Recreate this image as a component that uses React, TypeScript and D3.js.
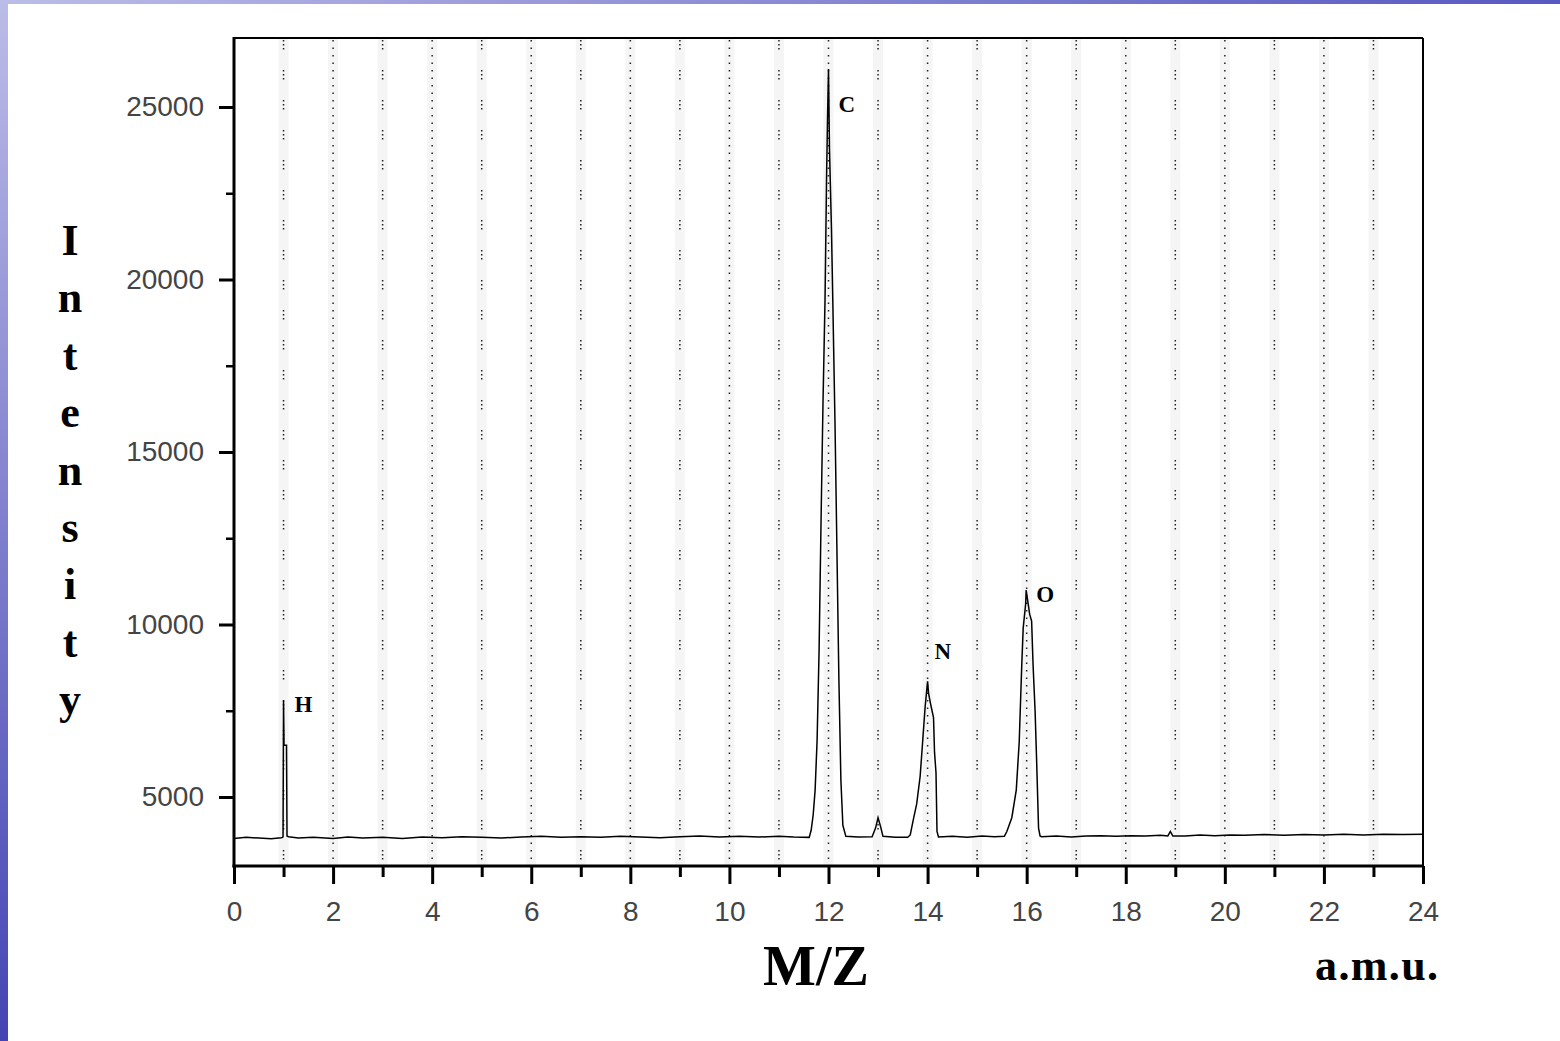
import React, { useEffect, useRef } from 'react';
import * as d3 from 'd3';

// m/z (amu) and intensity pairs
const baselineA: [number, number][] = [
  [0, 3800], [0.25, 3830], [0.5, 3810], [0.75, 3790], [0.95, 3820],
];
const peakH: [number, number][] = [
  [0.98, 3830], [0.99, 3850], [1.0, 7800], [1.01, 6500], [1.06, 6500], [1.07, 3870],
];
const baselineB: [number, number][] = [
  [1.1, 3850], [1.3, 3810], [1.6, 3830], [2.0, 3800], [2.3, 3840], [2.6, 3810],
  [3.0, 3830], [3.4, 3800], [3.8, 3840], [4.2, 3820], [4.6, 3850], [5.0, 3830],
  [5.4, 3810], [5.8, 3840], [6.2, 3860], [6.6, 3830], [7.0, 3850], [7.4, 3830],
  [7.8, 3860], [8.2, 3840], [8.6, 3820], [9.0, 3850], [9.4, 3870], [9.8, 3840],
  [10.2, 3860], [10.6, 3840], [11.0, 3860], [11.3, 3840],
];
const peakC: [number, number][] = [
  [11.61, 3830], [11.65, 4035], [11.69, 4470], [11.73, 5200], [11.77, 6650],
  [11.81, 9260], [11.85, 13030], [11.89, 16520], [11.93, 19420], [11.96, 22850],
  [11.98, 24650], [12.0, 26100], [12.02, 23770], [12.06, 21450], [12.09, 19130],
  [12.13, 15940], [12.17, 12160], [12.21, 8390], [12.25, 5490], [12.29, 4180],
  [12.35, 3860],
];
const bump13: [number, number][] = [
  [12.6, 3840], [12.88, 3850], [12.95, 4100], [13.0, 4400], [13.05, 4150],
  [13.1, 3860], [13.35, 3830],
];
const peakN: [number, number][] = [
  [13.6, 3830], [13.65, 3900], [13.71, 4330], [13.78, 4800], [13.85, 5600],
  [13.9, 6600], [13.95, 7600], [14.0, 8350], [14.02, 8000], [14.06, 7700],
  [14.12, 7300], [14.14, 6300], [14.17, 5700], [14.19, 4000], [14.22, 3840],
];
const baselineC: [number, number][] = [
  [14.5, 3860], [14.8, 3830], [15.1, 3870], [15.35, 3850],
];
const peakO: [number, number][] = [
  [15.55, 3860], [15.6, 4000], [15.7, 4400], [15.79, 5200], [15.85, 6600],
  [15.9, 8800], [15.93, 9900], [15.98, 10600], [15.99, 11000], [16.02, 10700],
  [16.06, 10300], [16.1, 10100], [16.13, 8800], [16.17, 7500], [16.2, 6100],
  [16.24, 4100], [16.27, 3870], [16.3, 3850],
];
const baselineD: [number, number][] = [
  [16.6, 3870], [16.9, 3840], [17.2, 3870], [17.5, 3880], [17.8, 3860],
  [18.1, 3880], [18.4, 3870], [18.7, 3890], [18.85, 3870], [18.9, 4000],
  [18.95, 3870], [19.2, 3870], [19.5, 3900], [19.8, 3880], [20.1, 3900],
  [20.4, 3890], [20.8, 3910], [21.2, 3890], [21.6, 3910], [22.0, 3900],
  [22.4, 3920], [22.8, 3900], [23.2, 3920], [23.6, 3910], [24.0, 3920],
];

const peakLabels = [
  { text: 'H', x: 1.0, y: 7800 },
  { text: 'C', x: 12.0, y: 26100 },
  { text: 'N', x: 14.0, y: 8350 },
  { text: 'O', x: 15.99, y: 11000 },
];

const xMajor = [0, 2, 4, 6, 8, 10, 12, 14, 16, 18, 20, 22, 24];
const xMinor = [1, 3, 5, 7, 9, 11, 13, 15, 17, 19, 21, 23];
const yMajor = [5000, 10000, 15000, 20000, 25000];
const yMinor = [7500, 12500, 17500, 22500];
const gridLines = d3.range(1, 24);
const yTitle = ['I', 'n', 't', 'e', 'n', 's', 'i', 't', 'y'];

const W = 1560;
const H = 1041;

const App = () => {
  const ref = useRef<SVGSVGElement>(null);

  useEffect(() => {
    const svg = d3.select(ref.current);
    svg.selectAll('*').remove();

    const left = 234, right = 1423, top = 38, bottom = 866;
    const x = d3.scaleLinear().domain([0, 24]).range([left, right]);
    const y = d3.scaleLinear().domain([3000, 27000]).range([bottom, top]);

    // slide background
    const defs = svg.append('defs');
    const gl = defs.append('linearGradient').attr('id', 'leftBand')
      .attr('x1', 0).attr('y1', 0).attr('x2', 0).attr('y2', 1);
    gl.append('stop').attr('offset', '0%').attr('stop-color', '#bcbce8');
    gl.append('stop').attr('offset', '100%').attr('stop-color', '#4444b4');
    const gt = defs.append('linearGradient').attr('id', 'topBand')
      .attr('x1', 0).attr('y1', 0).attr('x2', 1).attr('y2', 0);
    gt.append('stop').attr('offset', '0%').attr('stop-color', '#bcbce8');
    gt.append('stop').attr('offset', '100%').attr('stop-color', '#5858c2');

    svg.append('rect').attr('width', W).attr('height', H).attr('fill', '#fff');
    svg.append('rect').attr('width', W).attr('height', 4).attr('fill', 'url(#topBand)');
    svg.append('rect').attr('width', 8).attr('height', H).attr('fill', 'url(#leftBand)');

    // dotted vertical grid
    const grid = svg.append('g');
    grid.selectAll('line.halo').data(gridLines).join('line')
      .attr('x1', d => x(d)).attr('x2', d => x(d))
      .attr('y1', top).attr('y2', bottom)
      .attr('stroke', '#f5f5f5').attr('stroke-width', 10);
    grid.selectAll('line.dot').data(gridLines).join('line')
      .attr('x1', d => x(d)).attr('x2', d => x(d))
      .attr('y1', top + 2).attr('y2', bottom)
      .attr('stroke', '#222').attr('stroke-width', 1.5)
      .attr('stroke-dasharray', d => (d % 2 === 1 ? '1.5,2.5,1.5,2.5,1.5,20.5' : '1.5,6'));

    // spectrum trace
    const points = [...baselineA, ...peakH, ...baselineB, ...peakC, ...bump13,
      ...peakN, ...baselineC, ...peakO, ...baselineD];
    const line = d3.line<[number, number]>().x(d => x(d[0])).y(d => y(d[1]));
    svg.append('path').datum(points)
      .attr('fill', 'none').attr('stroke', '#000').attr('stroke-width', 1.5)
      .attr('stroke-linejoin', 'miter').attr('d', line);

    // axes
    const tickFont = (g: any) => g.selectAll('text')
      .attr('font-family', '"Liberation Sans", Arial, sans-serif')
      .attr('font-size', 28).attr('fill', '#444');

    const xAx = svg.append('g').attr('transform', `translate(0,${bottom})`)
      .call(d3.axisBottom(x).tickValues(xMajor).tickSize(18).tickPadding(17).tickFormat(d3.format('d')));
    xAx.select('.domain').remove();
    xAx.selectAll('line').attr('stroke-width', 3);
    tickFont(xAx);

    const xMin = svg.append('g').attr('transform', `translate(0,${bottom})`)
      .call(d3.axisBottom(x).tickValues(xMinor).tickSize(11).tickFormat(() => ''));
    xMin.select('.domain').remove();
    xMin.selectAll('line').attr('stroke-width', 3);

    const yAx = svg.append('g').attr('transform', `translate(${left},0)`)
      .call(d3.axisLeft(y).tickValues(yMajor).tickSize(15).tickPadding(15).tickFormat(d3.format('d')));
    yAx.select('.domain').remove();
    yAx.selectAll('line').attr('stroke-width', 3);
    tickFont(yAx);

    const yMin = svg.append('g').attr('transform', `translate(${left},0)`)
      .call(d3.axisLeft(y).tickValues(yMinor).tickSize(8).tickFormat(() => ''));
    yMin.select('.domain').remove();
    yMin.selectAll('line').attr('stroke-width', 2.5);

    // frame
    svg.append('line').attr('x1', left).attr('x2', right).attr('y1', top).attr('y2', top)
      .attr('stroke', '#000').attr('stroke-width', 2);
    svg.append('line').attr('x1', right).attr('x2', right).attr('y1', top).attr('y2', bottom)
      .attr('stroke', '#000').attr('stroke-width', 2);
    svg.append('line').attr('x1', left).attr('x2', left).attr('y1', top - 1).attr('y2', bottom + 1.5)
      .attr('stroke', '#000').attr('stroke-width', 3);
    svg.append('line').attr('x1', left - 1.5).attr('x2', right + 1).attr('y1', bottom).attr('y2', bottom)
      .attr('stroke', '#000').attr('stroke-width', 3);

    const serif = '"Liberation Serif", "Times New Roman", serif';

    // peak labels
    svg.selectAll('text.peak').data(peakLabels).join('text')
      .attr('x', d => x(d.x) + (d.text === 'H' ? 11 : d.text === 'C' ? 10 : d.text === 'N' ? 7 : 10))
      .attr('y', d => y(d.y) + (d.text === 'C' ? 43 : d.text === 'N' ? -22 : 12))
      .attr('font-family', serif).attr('font-weight', 'bold').attr('font-size', 23)
      .text(d => d.text);

    // axis titles
    svg.append('text').attr('x', 816).attr('y', 985).attr('text-anchor', 'middle')
      .attr('font-family', serif).attr('font-weight', 'bold').attr('font-size', 56)
      .text('M/Z');
    svg.append('text').attr('x', 1315).attr('y', 980)
      .attr('font-family', serif).attr('font-weight', 'bold').attr('font-size', 44)
      .attr('letter-spacing', 1.4).text('a.m.u.');
    svg.selectAll('text.ytitle').data(yTitle).join('text')
      .attr('x', 70).attr('y', (_, i) => 255 + i * 57.4).attr('text-anchor', 'middle')
      .attr('font-family', serif).attr('font-weight', 'bold').attr('font-size', 44)
      .text(d => d);
  }, []);

  return (
    <svg ref={ref} width={W} height={H}
      style={{ position: 'absolute', left: 0, top: 0, display: 'block' }} />
  );
};

export default App;
